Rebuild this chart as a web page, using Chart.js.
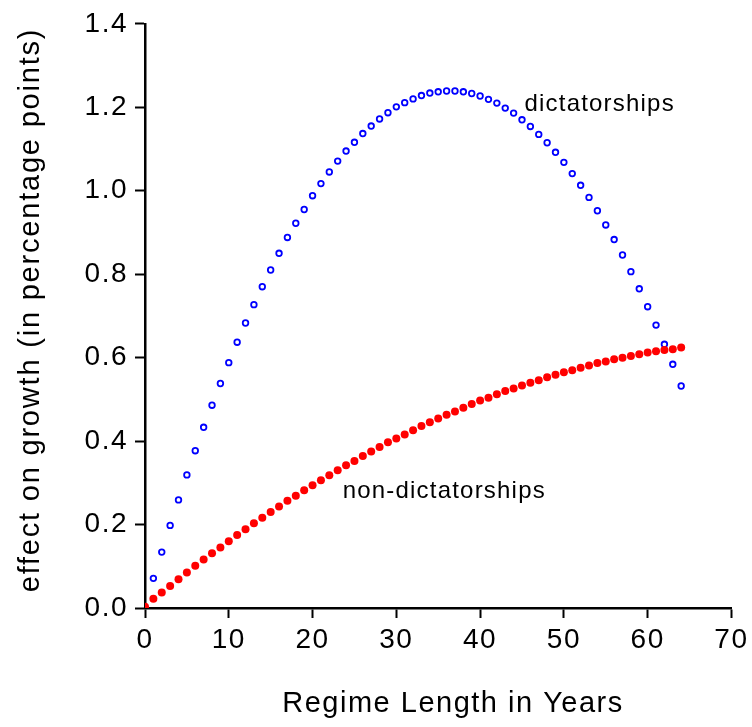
<!DOCTYPE html>
<html>
<head>
<meta charset="utf-8">
<script src="https://cdn.jsdelivr.net/npm/chart.js@4.4.0/dist/chart.umd.min.js"></script>
<style>
  body { margin: 0; background: #fff; }
  canvas { display: block; }
</style>
</head>
<body>
<canvas id="growthChart" width="752" height="727"></canvas>
<script>
// Regime length in years (x values)
const years = [0, 1, 2, 3, 4, 5, 6, 7, 8, 9, 10, 11, 12, 13, 14, 15, 16, 17, 18, 19,
    20, 21, 22, 23, 24, 25, 26, 27, 28, 29, 30, 31, 32, 33, 34, 35, 36, 37, 38, 39,
    40, 41, 42, 43, 44, 45, 46, 47, 48, 49, 50, 51, 52, 53, 54, 55, 56, 57, 58, 59,
    60, 61, 62, 63, 64];

// Effect on growth, dictatorships (blue open circles)
const dictatorships = [0, 0.071, 0.134, 0.198, 0.259, 0.319, 0.377, 0.433, 0.486, 0.538,
    0.588, 0.637, 0.683, 0.727, 0.770, 0.810, 0.850, 0.888, 0.922, 0.955,
    0.988, 1.017, 1.045, 1.071, 1.095, 1.116, 1.137, 1.155, 1.172, 1.187,
    1.201, 1.211, 1.220, 1.228, 1.234, 1.237, 1.239, 1.239, 1.237, 1.233,
    1.227, 1.219, 1.210, 1.198, 1.186, 1.170, 1.154, 1.135, 1.115, 1.092,
    1.068, 1.041, 1.013, 0.984, 0.952, 0.918, 0.883, 0.846, 0.806, 0.765,
    0.722, 0.678, 0.632, 0.584, 0.532];

// Effect on growth, non-dictatorships (red filled circles)
const nonDictatorships = [0.003, 0.022, 0.037, 0.053, 0.069, 0.085, 0.101, 0.116, 0.131, 0.145,
    0.160, 0.175, 0.189, 0.203, 0.216, 0.230, 0.243, 0.257, 0.269, 0.282,
    0.294, 0.306, 0.318, 0.330, 0.342, 0.352, 0.364, 0.375, 0.386, 0.397,
    0.406, 0.416, 0.426, 0.436, 0.445, 0.454, 0.463, 0.471, 0.480, 0.489,
    0.497, 0.504, 0.512, 0.520, 0.526, 0.533, 0.540, 0.546, 0.553, 0.559,
    0.565, 0.570, 0.576, 0.581, 0.587, 0.591, 0.596, 0.600, 0.604, 0.608,
    0.612, 0.615, 0.618, 0.620, 0.624];

// Axis ticks
const xTicks = [0, 10, 20, 30, 40, 50, 60, 70];
const yTicks = [0.0, 0.2, 0.4, 0.6, 0.8, 1.0, 1.2, 1.4];

const FONT = "'Liberation Sans', Arial, sans-serif";

function toPoints(values) {
    return years.map((x, i) => ({ x: x, y: values[i] }));
}

// The original text is a bit wider than Arial, so spread the letters a little
const spacingPlugin = {
    id: 'spacingPlugin',
    beforeDraw(chart) {
        chart.ctx.letterSpacing = '1.5px';
    }
};

// Draws the axis titles and the series labels
const textPlugin = {
    id: 'textPlugin',
    afterDraw(chart) {
        const ctx = chart.ctx;
        const xs = chart.scales.x;
        const ys = chart.scales.y;
        ctx.save();
        ctx.fillStyle = '#000';
        ctx.textBaseline = 'middle';

        ctx.letterSpacing = '1.2px';
        ctx.font = '24px ' + FONT;
        ctx.textAlign = 'left';
        ctx.fillText('dictatorships', xs.getPixelForValue(45.3), ys.getPixelForValue(1.207));
        ctx.fillText('non-dictatorships', xs.getPixelForValue(23.6), ys.getPixelForValue(0.28));

        ctx.letterSpacing = '1.5px';
        ctx.font = '29px ' + FONT;
        ctx.textAlign = 'center';
        ctx.fillText('Regime Length in Years', 453, 704);

        ctx.translate(31, 310);
        ctx.rotate(-Math.PI / 2);
        ctx.letterSpacing = '1.8px';
        ctx.fillText('effect on growth (in percentage points)', 0, 0);
        ctx.restore();
    }
};

const ctx = document.getElementById('growthChart').getContext('2d');

new Chart(ctx, {
    type: 'scatter',
    data: {
        datasets: [
            {
                label: 'non-dictatorships',
                data: toPoints(nonDictatorships),
                pointStyle: 'circle',
                pointRadius: 4,
                pointBackgroundColor: '#ff0000',
                pointBorderColor: '#ff0000',
                pointBorderWidth: 0,
                showLine: false
            },
            {
                label: 'dictatorships',
                data: toPoints(dictatorships),
                pointStyle: 'circle',
                pointRadius: 2.8,
                pointBackgroundColor: 'rgba(0,0,0,0)',
                pointBorderColor: '#0000ff',
                pointBorderWidth: 1.8,
                showLine: false
            }
        ]
    },
    options: {
        responsive: false,
        animation: false,
        layout: {
            padding: { top: 23, right: 20, bottom: 0, left: 0 }
        },
        plugins: {
            legend: { display: false },
            tooltip: { enabled: false }
        },
        scales: {
            x: {
                type: 'linear',
                min: 0,
                max: 70,
                afterBuildTicks: (scale) => {
                    scale.ticks = xTicks.map(v => ({ value: v }));
                },
                afterFit: (scale) => { scale.height = 119; },
                border: { display: true, color: '#000', width: 2.5 },
                grid: {
                    drawOnChartArea: false,
                    drawTicks: true,
                    tickLength: 10,
                    tickColor: '#000',
                    tickWidth: 2
                },
                ticks: {
                    color: '#000',
                    padding: 5,
                    maxRotation: 0,
                    font: { family: FONT, size: 28 },
                    callback: (v) => String(v)
                }
            },
            y: {
                type: 'linear',
                min: 0,
                max: 1.4,
                afterBuildTicks: (scale) => {
                    scale.ticks = yTicks.map(v => ({ value: v }));
                },
                afterFit: (scale) => { scale.width = 145; },
                border: { display: true, color: '#000', width: 2.5 },
                grid: {
                    drawOnChartArea: false,
                    drawTicks: true,
                    tickLength: 10,
                    tickColor: '#000',
                    tickWidth: 2
                },
                ticks: {
                    color: '#000',
                    padding: 7,
                    font: { family: FONT, size: 28 },
                    callback: (v) => v.toFixed(1)
                }
            }
        }
    },
    plugins: [spacingPlugin, textPlugin]
});
</script>
</body>
</html>
